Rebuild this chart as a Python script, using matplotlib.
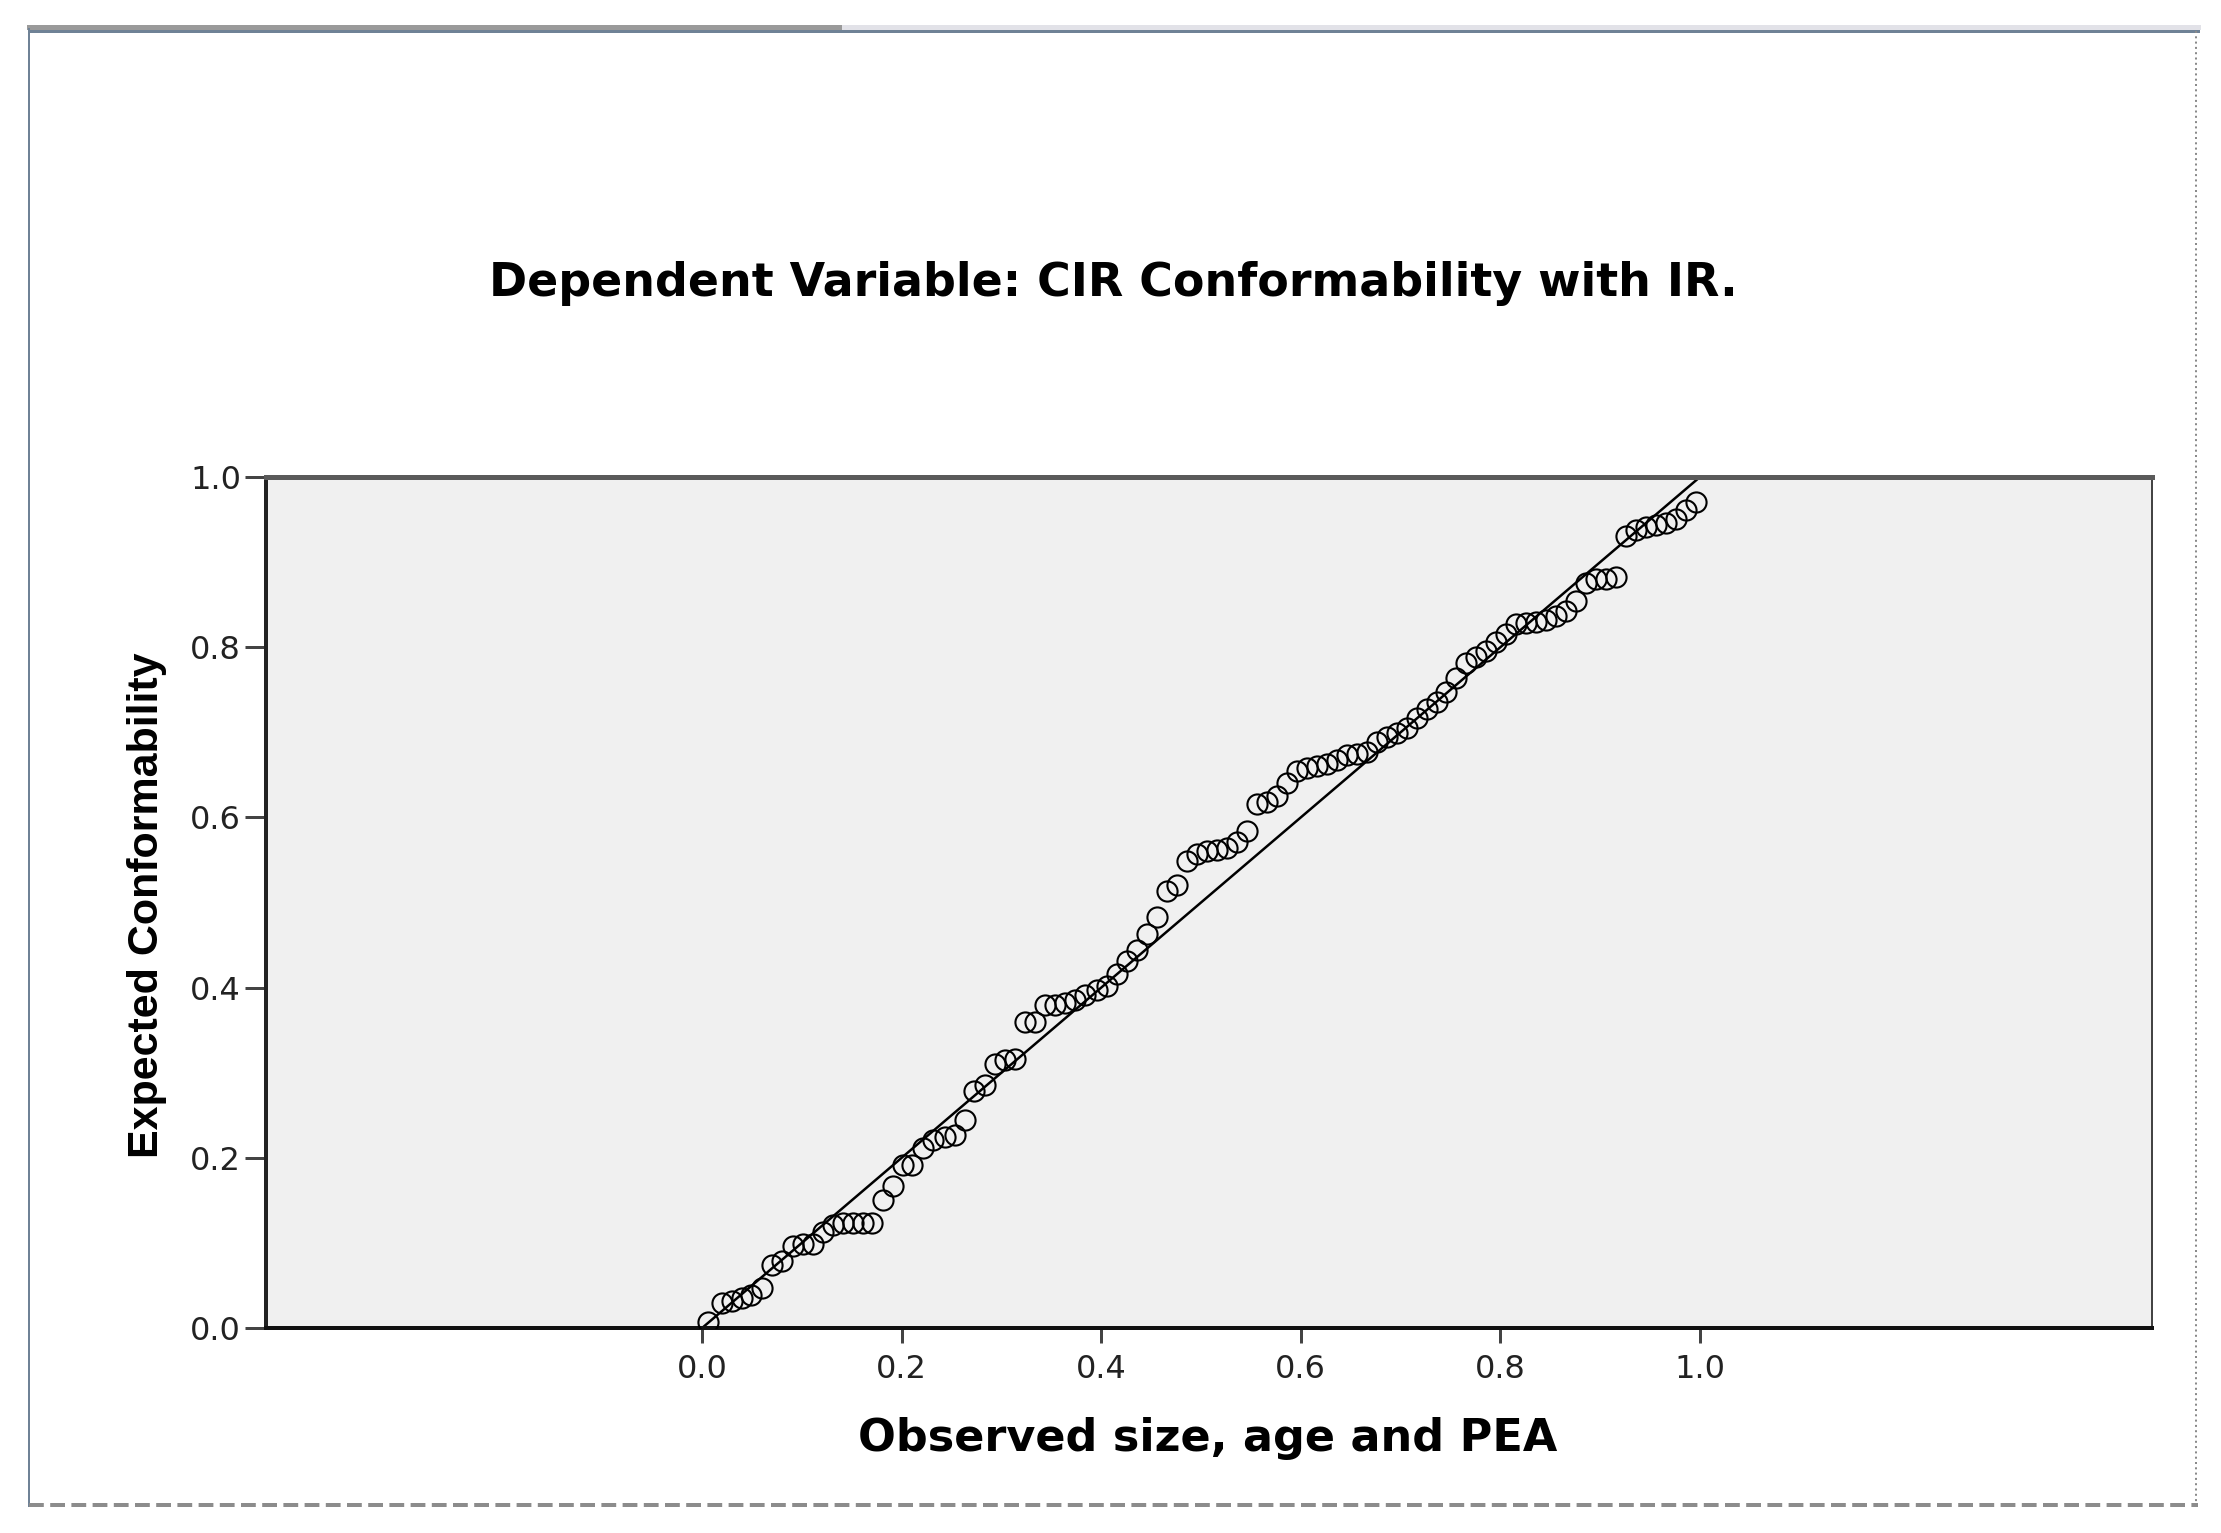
import matplotlib
matplotlib.use('Agg')
import matplotlib.pyplot as plt
from matplotlib.lines import Line2D

# P-P plot data
observed = [0.006, 0.020, 0.030, 0.040, 0.049, 0.060, 0.070, 0.080, 0.091, 0.101,
            0.111, 0.121, 0.131, 0.141, 0.151, 0.161, 0.170, 0.181, 0.191, 0.201,
            0.210, 0.221, 0.231, 0.243, 0.253, 0.263, 0.273, 0.284, 0.294, 0.304,
            0.314, 0.324, 0.334, 0.344, 0.354, 0.364, 0.374, 0.384, 0.396, 0.406,
            0.416, 0.426, 0.436, 0.446, 0.456, 0.466, 0.476, 0.486, 0.496, 0.506,
            0.516, 0.526, 0.536, 0.546, 0.556, 0.566, 0.576, 0.586, 0.596, 0.606,
            0.616, 0.626, 0.636, 0.646, 0.656, 0.666, 0.676, 0.686, 0.696, 0.706,
            0.716, 0.726, 0.736, 0.746, 0.756, 0.766, 0.776, 0.786, 0.796, 0.806,
            0.816, 0.826, 0.836, 0.846, 0.856, 0.866, 0.876, 0.886, 0.896, 0.906,
            0.916, 0.926, 0.936, 0.946, 0.956, 0.966, 0.976, 0.986, 0.996]
expected = [0.007, 0.029, 0.032, 0.035, 0.039, 0.047, 0.074, 0.079, 0.096, 0.099,
            0.099, 0.113, 0.121, 0.123, 0.123, 0.123, 0.123, 0.150, 0.167, 0.192,
            0.192, 0.212, 0.221, 0.224, 0.227, 0.244, 0.279, 0.285, 0.310, 0.315,
            0.316, 0.360, 0.360, 0.379, 0.380, 0.382, 0.386, 0.391, 0.397, 0.402,
            0.416, 0.431, 0.444, 0.463, 0.483, 0.513, 0.520, 0.549, 0.557, 0.561,
            0.562, 0.564, 0.571, 0.584, 0.616, 0.618, 0.625, 0.640, 0.655, 0.658,
            0.660, 0.663, 0.668, 0.673, 0.675, 0.677, 0.689, 0.694, 0.699, 0.705,
            0.717, 0.727, 0.736, 0.747, 0.764, 0.781, 0.788, 0.795, 0.806, 0.816,
            0.827, 0.828, 0.830, 0.832, 0.837, 0.843, 0.854, 0.875, 0.880, 0.880,
            0.882, 0.931, 0.938, 0.941, 0.944, 0.946, 0.951, 0.961, 0.971]
ref_line = [0.0, 1.0]
x_ticks = [0.0, 0.2, 0.4, 0.6, 0.8, 1.0]
y_ticks = [0.0, 0.2, 0.4, 0.6, 0.8, 1.0]

title = 'Dependent Variable: CIR Conformability with IR.'
x_label = 'Observed size, age and PEA'
y_label = 'Expected Conformability'

W, H = 2221, 1533
fig = plt.figure(figsize=(W / 100, H / 100), dpi=100)


def fx(px):
    return px / W


def fy(py):
    return 1 - py / H


def pt(px):
    # pixel width -> points at dpi 100
    return px * 0.72


# outer viewer frame
frame = [
    ((29, 844), (27, 27), '#9a9a9a', 5, '-'),
    ((844, 2198), (27, 27), '#e2e2e8', 5, '-'),
    ((29, 2198), (31, 31), '#6f8296', 3, '-'),
    ((29, 29), (29, 1506), '#6f8296', 2, '-'),
    ((2196, 2196), (31, 1506), '#8a8a8a', 2, ':'),
    ((29, 2198), (1505, 1505), '#8c8c8c', 4, '--'),
]
for xs, ys, c, w, ls in frame:
    fig.add_artist(Line2D([fx(v) for v in xs], [fy(v) for v in ys], color=c,
                          lw=pt(w), ls=ls, transform=fig.transFigure))

ax = fig.add_axes([fx(266), fy(1328), fx(2152) - fx(266), fy(477) - fy(1328)])
ax.set_facecolor('#f0f0f0')

ax.plot(ref_line, ref_line, color='black', lw=pt(2.5), zorder=2)
ax.plot(observed, expected, 'o', mfc='none', mec='black', ms=14.5, mew=1.5, zorder=3)

ax.set_xlim(-0.437, 1.453)
ax.set_ylim(0, 1)
ax.set_xticks(x_ticks)
ax.set_yticks(y_ticks)
ax.set_xticklabels(['%.1f' % v for v in x_ticks])
ax.set_yticklabels(['%.1f' % v for v in y_ticks])
ax.tick_params(direction='out', width=pt(3), color='#444444',
               labelsize=23, labelcolor='#222222')
ax.tick_params(axis='y', length=15, pad=3)
ax.tick_params(axis='x', length=11, pad=8)

ax.spines['left'].set_linewidth(pt(4))
ax.spines['left'].set_color('#222222')
ax.spines['bottom'].set_linewidth(pt(4))
ax.spines['bottom'].set_color('#111111')
ax.spines['top'].set_linewidth(pt(5))
ax.spines['top'].set_color('#5a5a5a')
ax.spines['right'].set_linewidth(pt(2))
ax.spines['right'].set_color('#444444')

fig.text(fx(1113), fy(283), title, ha='center', va='center', fontsize=33,
         fontweight='bold', family=['DejaVu Sans'])
fig.text(fx(1208), fy(1439), x_label, ha='center', va='center', fontsize=32,
         fontweight='bold', family=['DejaVu Sans'])
fig.text(fx(147), fy(905), y_label, ha='center', va='center', rotation=90,
         fontsize=31, fontweight='bold', family=['Liberation Sans', 'DejaVu Sans'])

fig.savefig('out.png', dpi=100)
